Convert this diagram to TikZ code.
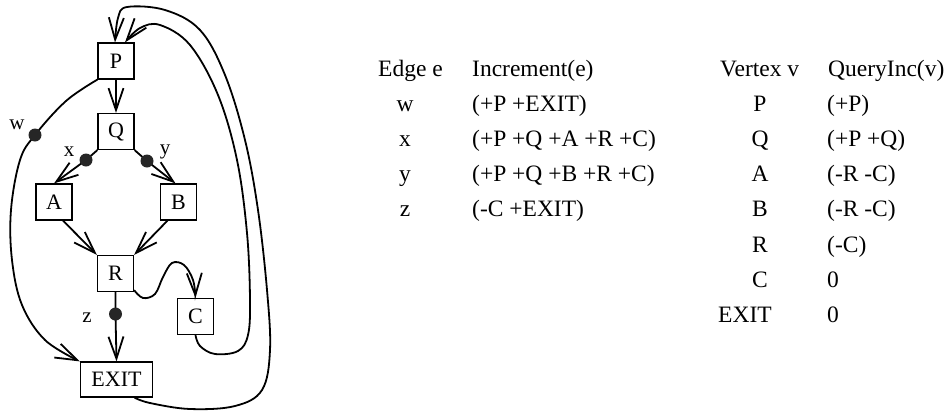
\documentclass[tikz,border=0pt]{standalone}
\usepackage{fontspec}
\setmainfont{Liberation Serif}
\usetikzlibrary{arrows.meta}
\begin{document}
\begin{tikzpicture}[x=1pt,y=-1pt,
  box/.style={draw,line width=1.2pt,inner sep=0pt,minimum width=36pt,minimum height=36pt,font=\fontsize{22}{25}\selectfont},
  edge/.style={line width=1.8pt,-{Straight Barb[length=22pt,width=15pt]}},
  dot/.style={circle,fill=black!85,inner sep=0pt,minimum size=13pt},
  lab/.style={font=\fontsize{21}{24}\selectfont,inner sep=0pt},
  tab/.style={font=\fontsize{23.5}{28}\selectfont,inner sep=0pt,anchor=base west},
  tabc/.style={font=\fontsize{23.5}{28}\selectfont,inner sep=0pt,anchor=base},
]
\useasboundingbox (0,0) rectangle (947,410);
% nodes
\node[box] (P) at (116,61) {P};
\node[box] (Q) at (116,131.5) {Q};
\node[box] (A) at (54,202) {A};
\node[box] (B) at (178.5,202) {B};
\node[box] (R) at (115.5,273.5) {R};
\node[box] (C) at (195.5,316.5) {C};
\node[box,minimum width=72pt,minimum height=35pt] (EXIT) at (116.5,379.5) {EXIT};
\coordinate (wd) at (35,135);
\coordinate (xd) at (86,160);
\coordinate (yd) at (147,161);
\coordinate (zd) at (115.5,314);
% connectors
\draw[edge] (P) -- (Q);
\draw[edge] plot[smooth,tension=0.6] coordinates {(P.south west) (66,101) (wd) (20,160) (11,210) (12,260) (22,305) (45,340) (EXIT.north west)};
\draw[edge] (Q.south west) -- (xd) -- (A.north);
\draw[edge] (Q.south east) -- (yd) -- ([xshift=-3pt]B.north);
\draw[edge] ([xshift=9pt]A.south) -- (R.north west);
\draw[edge] ([xshift=-11pt]B.south) -- (R.north east);
\draw[edge] (R.south) -- (zd) -- (EXIT.north);
\draw[edge] plot[smooth,tension=0.6] coordinates {([yshift=2pt]R.south east) (143,298) (155,294) (163,277) (172,263) (184,265) (193,280) (C.north)};
\draw[edge] plot[smooth,tension=0.6] coordinates {(C.south) (200,346) (215,354) (238,351) (248,335) (250,300) (247,233) (237,160) (218,95) (190,45) (160,25) (140,28) ([xshift=9pt]P.north)};
\draw[edge] plot[smooth,tension=0.6] coordinates {([xshift=18pt]EXIT.south) (150,403) (190,409) (235,406) (262,390) (270,350) (267,290) (258,210) (245,140) (225,75) (200,30) (165,10) (127,7) (118,18) ([xshift=-1pt]P.north)};
% dots
\node[dot] (w) at (wd) {};
\node[dot] (x) at (xd) {};
\node[dot] (y) at (yd) {};
\node[dot] (z) at (zd) {};
\node[lab] (lw) at (17,125) {w};
\node[lab] (lx) at (69,152) {x};
\node[lab] (ly) at (165,152) {y};
\node[lab] (lz) at (87,318) {z};
% left table
\node[tab] (h1) at (378,76) {Edge e};
\node[tab] (h2) at (472,76) {Increment(e)};
\node[tabc] (e1) at (405,111.2) {w};
\node[tabc] (e2) at (405,146.4) {x};
\node[tabc] (e3) at (405,181.6) {y};
\node[tabc] (e4) at (405,216.8) {z};
\node[tab] (i1) at (472,111.2) {(+P +EXIT)};
\node[tab] (i2) at (472,146.4) {(+P +Q +A +R +C)};
\node[tab] (i3) at (472,181.6) {(+P +Q +B +R +C)};
\node[tab] (i4) at (472,216.8) {(-C +EXIT)};
% right table
\node[tab] (h3) at (720,76) {Vertex v};
\node[tab] (h4) at (828,76) {QueryInc(v)};
\node[tabc] (v1) at (760,111.2) {P};
\node[tabc] (v2) at (760,146.4) {Q};
\node[tabc] (v3) at (760,181.6) {A};
\node[tabc] (v4) at (760,216.8) {B};
\node[tabc] (v5) at (760,252) {R};
\node[tabc] (v6) at (760,287.2) {C};
\node[tab] (v7) at (718,322.4) {EXIT};
\node[tab] (q1) at (827,111.2) {(+P)};
\node[tab] (q2) at (827,146.4) {(+P +Q)};
\node[tab] (q3) at (827,181.6) {(-R -C)};
\node[tab] (q4) at (827,216.8) {(-R -C)};
\node[tab] (q5) at (827,252) {(-C)};
\node[tab] (q6) at (827,287.2) {0};
\node[tab] (q7) at (827,322.4) {0};
\end{tikzpicture}
\end{document}
